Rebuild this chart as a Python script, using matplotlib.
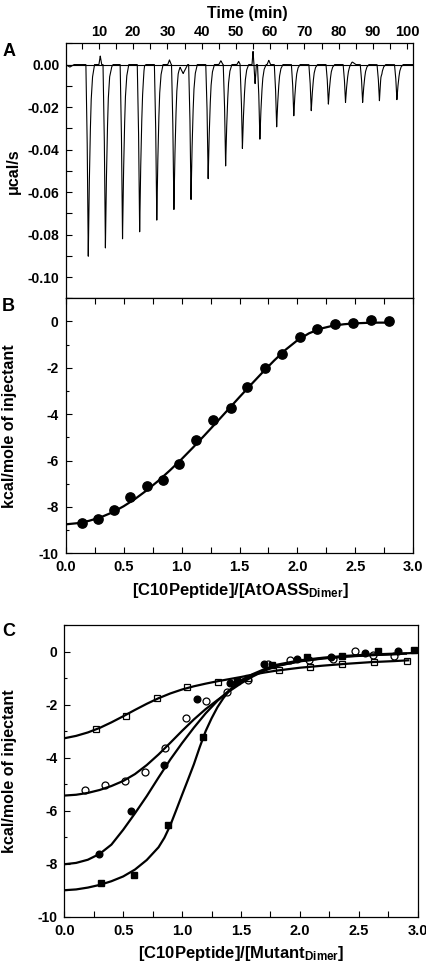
import numpy as np
import matplotlib.pyplot as plt
from matplotlib.ticker import MultipleLocator, FormatStrFormatter, FuncFormatter

plt.rcParams['font.family'] = ['Liberation Sans', 'DejaVu Sans']
plt.rcParams['font.weight'] = 'bold'
plt.rcParams['axes.labelweight'] = 'bold'
plt.rcParams['axes.unicode_minus'] = False
plt.rcParams['mathtext.fontset'] = 'custom'
plt.rcParams['mathtext.rm'] = 'Liberation Sans:bold'
plt.rcParams['mathtext.it'] = 'Liberation Sans:bold'
plt.rcParams['mathtext.bf'] = 'Liberation Sans:bold'

# ---- panel A: raw ITC trace (injection time in min, peak minimum in ucal/s)
inj_time = [6.9, 11.9, 16.9, 21.9, 26.9, 31.9, 36.9, 41.9, 47.0, 51.9,
            57.0, 61.9, 66.9, 72.0, 77.0, 82.0, 87.0, 91.9, 97.0]
inj_depth = [-0.0902, -0.0863, -0.0820, -0.0787, -0.0732, -0.0682, -0.0635,
             -0.0537, -0.0477, -0.0395, -0.0351, -0.0293, -0.0241, -0.0217,
             -0.0186, -0.0178, -0.0178, -0.0170, -0.0165]
# small baseline excursions seen on the trace
bump_time = [1.5, 10.4, 13.6, 23.3, 30.6, 34.6, 45.6, 50.8, 55.0, 55.6, 59.6, 84.0, 92.3]
bump_val = [-0.0012, 0.0040, -0.0015, 0.0030, 0.0022, -0.0042, 0.0018, 0.0015,
            0.0062, -0.0090, 0.0020, 0.0012, 0.0025]
bump_width = [1.2, 0.4, 0.5, 0.4, 0.5, 1.3, 0.6, 0.5, 0.3, 0.35, 0.5, 1.0, 0.3]

# ---- panel B: integrated heats, wild type
b_ratio = [0.138, 0.279, 0.417, 0.555, 0.699, 0.843, 0.981, 1.125, 1.274, 1.424,
           1.567, 1.720, 1.870, 2.020, 2.170, 2.324, 2.482, 2.635, 2.790]
b_heat = [-8.68, -8.50, -8.13, -7.55, -7.09, -6.83, -6.13, -5.12, -4.27, -3.72,
          -2.83, -2.02, -1.42, -0.67, -0.33, -0.12, -0.06, 0.07, 0.00]
b_fit_x = [0.0, 0.1, 0.2, 0.3, 0.4, 0.5, 0.6, 0.7, 0.8, 0.9, 1.0, 1.1, 1.2, 1.3,
           1.4, 1.5, 1.6, 1.7, 1.8, 1.9, 2.0, 2.1, 2.2, 2.3, 2.4, 2.5, 2.6, 2.7, 2.8]
b_fit_y = [-8.75, -8.70, -8.60, -8.45, -8.24, -7.97, -7.65, -7.28, -6.87, -6.42,
           -5.94, -5.43, -4.90, -4.36, -3.81, -3.26, -2.72, -2.19, -1.68, -1.21,
           -0.81, -0.51, -0.31, -0.19, -0.12, -0.08, -0.06, -0.05, -0.05]

# ---- panel C: mutants
os_x = [0.269, 0.524, 0.784, 1.044, 1.308, 1.560, 1.820, 2.086, 2.355, 2.630, 2.907]
os_y = [-2.93, -2.43, -1.74, -1.33, -1.13, -0.98, -0.69, -0.59, -0.48, -0.38, -0.34]
oc_x = [0.176, 0.346, 0.515, 0.685, 0.855, 1.030, 1.203, 1.384, 1.562, 1.732,
        1.916, 2.080, 2.280, 2.465, 2.620, 2.800]
oc_y = [-5.22, -5.03, -4.87, -4.53, -3.65, -2.49, -1.85, -1.51, -1.07, -0.46,
        -0.33, -0.30, -0.27, 0.03, -0.12, -0.15]
fc_x = [0.297, 0.566, 0.849, 1.124, 1.410, 1.698, 1.973, 2.260, 2.553, 2.835]
fc_y = [-7.63, -6.00, -4.28, -1.80, -1.18, -0.48, -0.29, -0.20, -0.06, 0.03]
fs_x = [0.309, 0.592, 0.883, 1.180, 1.470, 1.760, 2.058, 2.355, 2.666, 2.971]
fs_y = [-8.74, -8.43, -6.54, -3.23, -1.12, -0.52, -0.21, -0.16, 0.03, 0.04]

os_fit_x = [0.0, 0.1, 0.2, 0.3, 0.4, 0.5, 0.6, 0.7, 0.8, 0.9, 1.0, 1.1, 1.2, 1.3,
            1.4, 1.5, 1.6, 1.7, 1.8, 2.0, 2.2, 2.4, 2.6, 2.8, 2.92]
os_fit_y = [-3.27, -3.18, -3.05, -2.88, -2.67, -2.44, -2.20, -1.97, -1.76, -1.58,
            -1.43, -1.31, -1.21, -1.12, -1.04, -0.96, -0.87, -0.79, -0.72, -0.61,
            -0.53, -0.46, -0.40, -0.36, -0.33]
oc_fit_x = [0.0, 0.1, 0.2, 0.3, 0.4, 0.5, 0.6, 0.7, 0.8, 0.9, 1.0, 1.1, 1.2, 1.3,
            1.4, 1.5, 1.6, 1.7, 1.8, 2.0, 2.2, 2.4, 2.6, 2.85]
oc_fit_y = [-5.43, -5.40, -5.33, -5.22, -5.07, -4.88, -4.62, -4.28, -3.88, -3.44,
            -2.99, -2.56, -2.17, -1.83, -1.50, -1.20, -0.94, -0.72, -0.55, -0.37,
            -0.26, -0.19, -0.14, -0.09]
fc_fit_x = [0.0, 0.1, 0.2, 0.3, 0.4, 0.5, 0.6, 0.7, 0.8, 0.9, 1.0, 1.1, 1.2, 1.3,
            1.4, 1.5, 1.6, 1.7, 1.8, 2.0, 2.2, 2.4, 2.6, 2.9]
fc_fit_y = [-8.02, -7.97, -7.85, -7.63, -7.28, -6.72, -6.10, -5.45, -4.75, -4.07,
            -3.45, -2.87, -2.33, -1.86, -1.46, -1.14, -0.90, -0.70, -0.54, -0.36,
            -0.25, -0.18, -0.13, -0.08]
fs_fit_x = [0.0, 0.1, 0.2, 0.3, 0.4, 0.5, 0.6, 0.7, 0.8, 0.85, 0.9, 0.95, 1.0,
            1.05, 1.1, 1.15, 1.2, 1.25, 1.3, 1.35, 1.4, 1.5, 1.6, 1.7, 1.8, 2.0,
            2.2, 2.4, 2.6, 2.8, 3.0]
fs_fit_y = [-9.00, -8.97, -8.90, -8.80, -8.66, -8.48, -8.22, -7.86, -7.38, -7.02,
            -6.55, -5.98, -5.40, -4.83, -4.25, -3.60, -3.00, -2.52, -2.10, -1.76,
            -1.48, -1.08, -0.85, -0.66, -0.50, -0.33, -0.23, -0.16, -0.11, -0.08,
            -0.05]

fig = plt.figure(figsize=(4.27, 9.65), dpi=100)
axA = fig.add_axes([0.1538, 0.6909, 0.8142, 0.2642])
axB = fig.add_axes([0.1538, 0.4266, 0.8142, 0.2643])
axC = fig.add_axes([0.1506, 0.0500, 0.8276, 0.3023])

# build the thermogram: each injection is a sharp drop and a fast recovery
shape_dt = [-0.7, -0.35, 0.0, 0.2, 0.5, 0.8, 1.2, 1.8]
shape_fr = [0.0, 0.35, 1.0, 0.72, 0.42, 0.20, 0.07, 0.0]
t = np.union1d(np.linspace(0, 102, 20000), inj_time)
trace = np.zeros_like(t)
for tm, d in zip(inj_time, inj_depth):
    trace += np.interp(t, tm + np.array(shape_dt), d * np.array(shape_fr), left=0, right=0)
for tb, vb, wb in zip(bump_time, bump_val, bump_width):
    trace += np.interp(t, [tb - wb, tb, tb + wb], [0, vb, 0], left=0, right=0)

axA.axhline(0, color='black', lw=0.8)
axA.plot(t, trace, color='black', lw=0.8)
axA.set_xlim(0.3, 101.8)
axA.set_ylim(-0.11, 0.01)
axA.xaxis.tick_top()
axA.xaxis.set_label_position('top')
axA.xaxis.set_major_locator(MultipleLocator(10))
axA.xaxis.set_minor_locator(MultipleLocator(5))
axA.yaxis.set_major_locator(MultipleLocator(0.02))
axA.yaxis.set_minor_locator(MultipleLocator(0.01))
axA.yaxis.set_major_formatter(FuncFormatter(lambda v, p: '%.2f' % (round(v, 4) + 0.0)))
axA.tick_params(which='both', direction='in', length=4, width=0.8, labelsize=10,
                top=True, bottom=False, labeltop=True, labelbottom=False, pad=3)
axA.tick_params(axis='x', labelsize=10.5)
axA.tick_params(axis='y', pad=4.5)
axA.set_xlabel('Time (min)', fontsize=11.5)
axA.xaxis.set_label_coords(0.523, 1.10)
axA.set_ylabel('\u03bccal/s', fontsize=11.5, va='center')
axA.yaxis.set_label_coords(-0.15, 0.5)

# panel B
axB.plot(b_fit_x, b_fit_y, color='black', lw=1.6)
axB.plot(b_ratio, b_heat, 'o', color='black', ms=6.7)
axB.set_xlim(0, 3)
axB.set_ylim(-10, 1)
axB.xaxis.set_major_locator(MultipleLocator(0.5))
axB.xaxis.set_minor_locator(MultipleLocator(0.25))
axB.xaxis.set_major_formatter(FormatStrFormatter('%.1f'))
axB.yaxis.set_major_locator(MultipleLocator(2))
axB.yaxis.set_minor_locator(MultipleLocator(1))
axB.tick_params(which='both', direction='in', length=4, width=0.8, labelsize=10,
                top=True, pad=5)
axB.tick_params(axis='x', labelsize=10.5)
axB.tick_params(axis='y', which='minor', length=2.5)
axB.set_xlabel('[C10Peptide]/[AtOASS$_{\\mathrm{Dimer}}$]', fontsize=12)
axB.xaxis.set_label_coords(0.503, -0.11)
axB.set_ylabel('kcal/mole of injectant', fontsize=11.5, va='center')
axB.yaxis.set_label_coords(-0.161, 0.5)

# panel C
for fx, fy in [(os_fit_x, os_fit_y), (oc_fit_x, oc_fit_y),
               (fc_fit_x, fc_fit_y), (fs_fit_x, fs_fit_y)]:
    axC.plot(fx, fy, color='black', lw=1.6)
axC.plot(os_x, os_y, 's', mfc='none', mec='black', mew=0.9, ms=4.8)
axC.plot(oc_x, oc_y, 'o', mfc='none', mec='black', mew=0.9, ms=5.0)
axC.plot(fc_x, fc_y, 'o', color='black', ms=4.8)
axC.plot(fs_x, fs_y, 's', color='black', ms=4.4)
axC.set_xlim(0, 3)
axC.set_ylim(-10, 1)
axC.xaxis.set_major_locator(MultipleLocator(0.5))
axC.xaxis.set_minor_locator(MultipleLocator(0.25))
axC.xaxis.set_major_formatter(FormatStrFormatter('%.1f'))
axC.yaxis.set_major_locator(MultipleLocator(2))
axC.yaxis.set_minor_locator(MultipleLocator(1))
axC.tick_params(which='both', direction='in', length=4, width=0.8, labelsize=10, pad=5)
axC.tick_params(axis='x', labelsize=10.5)
axC.tick_params(axis='y', which='minor', length=2.5)
axC.set_xlabel('[C10Peptide]/[Mutant$_{\\mathrm{Dimer}}$]', fontsize=12)
axC.xaxis.set_label_coords(0.50, -0.095)
axC.set_ylabel('kcal/mole of injectant', fontsize=11.5, va='center')
axC.yaxis.set_label_coords(-0.154, 0.5)

for ax in (axA, axB, axC):
    for sp in ax.spines.values():
        sp.set_linewidth(0.9)
    for lbl in ax.get_xticklabels() + ax.get_yticklabels():
        lbl.set_fontweight('bold')

fig.text(9 / 427, 1 - 52 / 965, 'A', fontsize=13, fontweight='bold', ha='center', va='center')
fig.text(8 / 427, 1 - 306 / 965, 'B', fontsize=13, fontweight='bold', ha='center', va='center')
fig.text(9 / 427, 1 - 631 / 965, 'C', fontsize=13, fontweight='bold', ha='center', va='center')

fig.savefig('out.png', dpi=100)
